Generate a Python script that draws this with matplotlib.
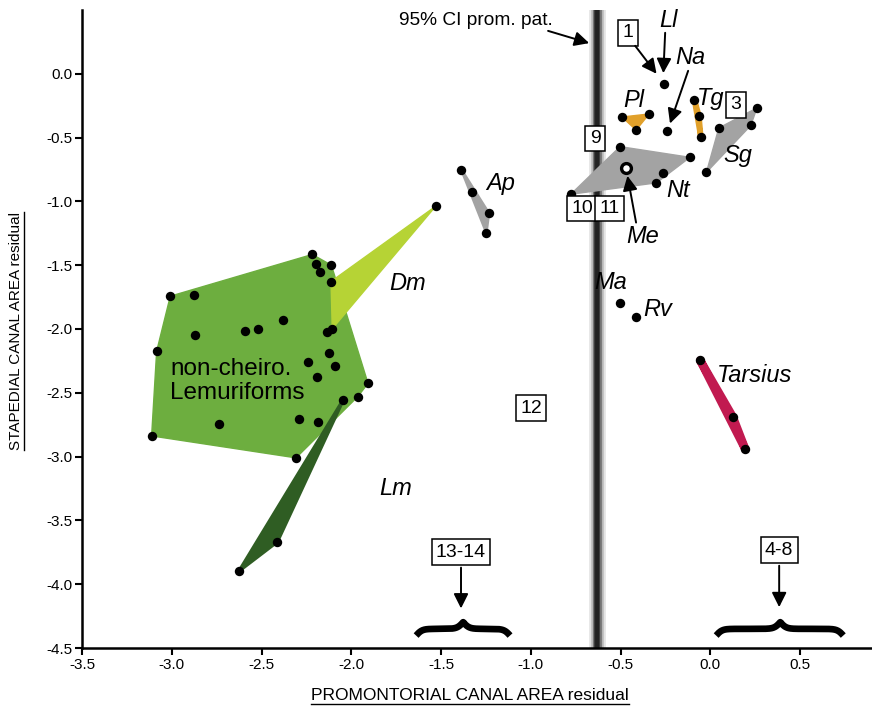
"""Canal area residual scatter: promontorial vs stapedial, with group hulls."""

import matplotlib
matplotlib.use("Agg")
import matplotlib.pyplot as plt
import numpy as np
from matplotlib.lines import Line2D
from matplotlib.ticker import FuncFormatter

plt.rcParams["font.family"] = ["Liberation Sans", "DejaVu Sans"]

# --- data (x = promontorial, y = stapedial) ---
lemur_x = [-2.217, -2.198, -2.111, -2.172, -3.008, -2.874, -2.379, -2.594, -2.518,
           -2.869, -2.133, -3.084, -2.124, -2.241, -2.091, -2.192, -1.907, -1.964,
           -2.293, -2.187, -2.735, -3.112, -2.308]
lemur_y = [-1.416, -1.489, -1.500, -1.555, -1.743, -1.732, -1.927, -2.017, -1.998,
           -2.045, -2.024, -2.175, -2.185, -2.261, -2.293, -2.379, -2.426, -2.530,
           -2.705, -2.728, -2.741, -2.838, -3.010]

dm_x = [-1.530, -2.113, -2.106]
dm_y = [-1.038, -1.628, -1.998]

lm_x = [-2.044, -2.412, -2.624]
lm_y = [-2.553, -3.667, -3.895]

ap_x = [-1.387, -1.327, -1.234, -1.248]
ap_y = [-0.751, -0.926, -1.093, -1.244]

pl_x = [-0.492, -0.341, -0.414]
pl_y = [-0.339, -0.315, -0.441]

tg_x = [-0.089, -0.064, -0.053]
tg_y = [-0.203, -0.329, -0.498]

sg_x = [0.259, 0.225, 0.047, -0.022]
sg_y = [-0.268, -0.405, -0.425, -0.772]

nt_x = [-0.503, -0.114, -0.263, -0.301, -0.777]
nt_y = [-0.571, -0.655, -0.777, -0.855, -0.944]

tarsius_x = [-0.057, 0.125, 0.195]
tarsius_y = [-2.246, -2.689, -2.944]

single_x = [-0.258, -0.239, -0.503, -0.412]   # Ll, Na, Ma, Rv
single_y = [-0.081, -0.446, -1.797, -1.907]

me_x = [-0.468]
me_y = [-0.741]

ci_prom_pat = -0.63

x_ticks = [-3.5, -3.0, -2.5, -2.0, -1.5, -1.0, -0.5, 0.0, 0.5]
y_ticks = [0.0, -0.5, -1.0, -1.5, -2.0, -2.5, -3.0, -3.5, -4.0, -4.5]

LEMUR_GREEN = "#6dae3f"
DM_GREEN = "#b6d335"
LM_GREEN = "#2f5d23"
GREY = "#a3a3a3"
ORANGE = "#e1a02a"
CRIMSON = "#c11a50"


def convex_hull(xs, ys):
    """Monotone chain hull, returns vertices in order."""
    pts = sorted(set(zip(xs, ys)))
    if len(pts) < 3:
        return pts

    def cross(o, a, b):
        return (a[0] - o[0]) * (b[1] - o[1]) - (a[1] - o[1]) * (b[0] - o[0])

    lower, upper = [], []
    for p in pts:
        while len(lower) >= 2 and cross(lower[-2], lower[-1], p) <= 0:
            lower.pop()
        lower.append(p)
    for p in reversed(pts):
        while len(upper) >= 2 and cross(upper[-2], upper[-1], p) <= 0:
            upper.pop()
        upper.append(p)
    return lower[:-1] + upper[:-1]


def fill_hull(ax, xs, ys, color, edge=1.0, zorder=2):
    hull = convex_hull(xs, ys)
    hx, hy = zip(*hull)
    ax.fill(hx, hy, facecolor=color, edgecolor=color, linewidth=edge,
            joinstyle="round", zorder=zorder)


def draw_brace(ax, x0, x1, peak, base_y, unit):
    """Curly brace opening downward, spanning x0..x1 with tip at peak."""
    beta = 60.0
    left = np.linspace(x0, peak, 200)
    right = np.linspace(peak, x1, 200)
    yl = 1 / (1 + np.exp(-beta * (left - x0))) + 1 / (1 + np.exp(-beta * (left - peak)))
    yr = 1 / (1 + np.exp(beta * (right - x1))) + 1 / (1 + np.exp(beta * (right - peak)))
    xs = np.concatenate([left, right])
    ys = base_y + unit * np.concatenate([yl, yr])
    ax.plot(xs, ys, color="black", linewidth=4.8, solid_capstyle="butt",
            clip_on=False, zorder=5)


def box_label(ax, x, y, text, size=14):
    ax.text(x, y, text, ha="center", va="center", fontsize=size, zorder=6,
            bbox=dict(boxstyle="square,pad=0.22", facecolor="white",
                      edgecolor="black", linewidth=1.1))


def arrow(ax, start, end):
    ax.annotate("", xy=end, xytext=start, zorder=6,
                arrowprops=dict(arrowstyle="-|>", color="black", lw=1.4,
                                mutation_scale=22, shrinkA=0, shrinkB=0))


def underline_text(fig, txt, lw=1.0):
    fig.canvas.draw()
    bb = txt.get_window_extent().transformed(fig.transFigure.inverted())
    if txt.get_rotation() == 90:
        x = bb.x1 + 0.002
        fig.add_artist(Line2D([x, x], [bb.y0, bb.y1], color="black", lw=lw,
                              transform=fig.transFigure))
    else:
        y = bb.y0 - 0.002
        fig.add_artist(Line2D([bb.x0, bb.x1], [y, y], color="black", lw=lw,
                              transform=fig.transFigure))


def main():
    fig = plt.figure(figsize=(8.72, 7.11), dpi=100)
    ax = fig.add_axes([0.094, 0.0886, 0.906, 0.8974])
    ax.set_xlim(-3.5, 0.9)
    ax.set_ylim(-4.5, 0.5)

    # 95% CI band, soft edges
    for w, a in [(12, 0.12), (9, 0.22), (6.5, 0.4), (4.5, 0.65), (3, 0.9), (1.8, 1.0)]:
        ax.axvline(ci_prom_pat, color="#222222", linewidth=w, alpha=a, zorder=1)

    fill_hull(ax, lemur_x, lemur_y, LEMUR_GREEN, zorder=2)
    fill_hull(ax, dm_x, dm_y, DM_GREEN, zorder=3)
    fill_hull(ax, lm_x, lm_y, LM_GREEN, edge=2.5, zorder=3)
    fill_hull(ax, ap_x, ap_y, GREY, edge=2.0, zorder=2)
    fill_hull(ax, nt_x, nt_y, GREY, zorder=2)
    fill_hull(ax, sg_x, sg_y, GREY, zorder=2)
    fill_hull(ax, pl_x, pl_y, ORANGE, zorder=2)
    fill_hull(ax, tg_x, tg_y, ORANGE, edge=4.0, zorder=2)
    fill_hull(ax, tarsius_x, tarsius_y, CRIMSON, edge=6.0, zorder=2)

    dot = dict(s=46, color="black", zorder=4, linewidths=0)
    for xs, ys in [(lemur_x, lemur_y), (dm_x, dm_y), (lm_x, lm_y), (ap_x, ap_y),
                   (pl_x, pl_y), (tg_x, tg_y), (sg_x, sg_y), (nt_x, nt_y),
                   (tarsius_x, tarsius_y), (single_x, single_y)]:
        ax.scatter(xs, ys, **dot)
    ax.scatter(me_x, me_y, s=50, facecolor="white", edgecolor="black",
               linewidths=2.4, zorder=4)

    # species labels
    ital = dict(fontsize=17, style="italic", ha="center", va="center", zorder=6)
    ax.text(-0.235, 0.415, "Ll", **ital)
    ax.text(-0.113, 0.125, "Na", **ital)
    ax.text(-0.425, -0.211, "Pl", **ital)
    ax.text(0.0, -0.196, "Tg", **ital)
    ax.text(0.155, -0.642, "Sg", **ital)
    ax.text(-0.18, -0.915, "Nt", **ital)
    ax.text(-0.375, -1.275, "Me", **ital)
    ax.text(-1.171, -0.861, "Ap", **ital)
    ax.text(-1.689, -1.643, "Dm", **ital)
    ax.text(-1.751, -3.247, "Lm", **ital)
    ax.text(-0.558, -1.635, "Ma", **ital)
    ax.text(-0.291, -1.847, "Rv", **ital)
    ax.text(0.244, -2.363, "Tarsius", **ital)
    ax.text(-3.01, -2.41, "non-cheiro.\nLemuriforms", fontsize=17.5,
            ha="left", va="center", linespacing=1.1, zorder=6)
    ax.text(-0.88, 0.415, "95% CI prom. pat.", fontsize=13.8, ha="right",
            va="center", zorder=6)

    box_label(ax, -0.458, 0.321, "1")
    box_label(ax, 0.143, -0.243, "3")
    box_label(ax, -0.642, -0.509, "9")
    box_label(ax, -0.714, -1.056, "10")
    box_label(ax, -0.564, -1.056, "11")
    box_label(ax, -0.999, -2.621, "12")
    box_label(ax, -1.389, -3.748, "13-14")
    box_label(ax, 0.383, -3.732, "4-8")

    arrow(ax, (-0.904, 0.336), (-0.675, 0.24))
    arrow(ax, (-0.419, 0.219), (-0.30, 0.0))
    arrow(ax, (-0.252, 0.321), (-0.262, 0.005))
    arrow(ax, (-0.124, 0.023), (-0.225, -0.39))
    arrow(ax, (-0.414, -1.166), (-0.462, -0.80))
    arrow(ax, (-1.389, -3.87), (-1.389, -4.19))
    arrow(ax, (0.383, -3.855), (0.383, -4.18))

    draw_brace(ax, -1.639, -1.116, -1.377, -4.455, 0.105)
    draw_brace(ax, 0.032, 0.740, 0.389, -4.455, 0.105)

    # axes styling
    for side in ("top", "right"):
        ax.spines[side].set_visible(False)
    for side in ("left", "bottom"):
        ax.spines[side].set_linewidth(1.8)
    ax.set_xticks(x_ticks)
    ax.set_yticks(y_ticks)
    fmt = FuncFormatter(lambda v, _: f"{v:.1f}".replace("\u2212", "-"))
    ax.xaxis.set_major_formatter(fmt)
    ax.yaxis.set_major_formatter(fmt)
    ax.tick_params(direction="out", length=5, width=1.5, labelsize=11, pad=2)

    xl = fig.text(0.539, 0.022, "PROMONTORIAL CANAL AREA residual",
                  ha="center", va="center", fontsize=12.5)
    yl = fig.text(0.018, 0.535, "STAPEDIAL CANAL AREA residual", rotation=90,
                  ha="center", va="center", fontsize=11)
    underline_text(fig, xl)
    underline_text(fig, yl)

    fig.savefig("out.png", dpi=100)
    plt.close(fig)


if __name__ == "__main__":
    main()
